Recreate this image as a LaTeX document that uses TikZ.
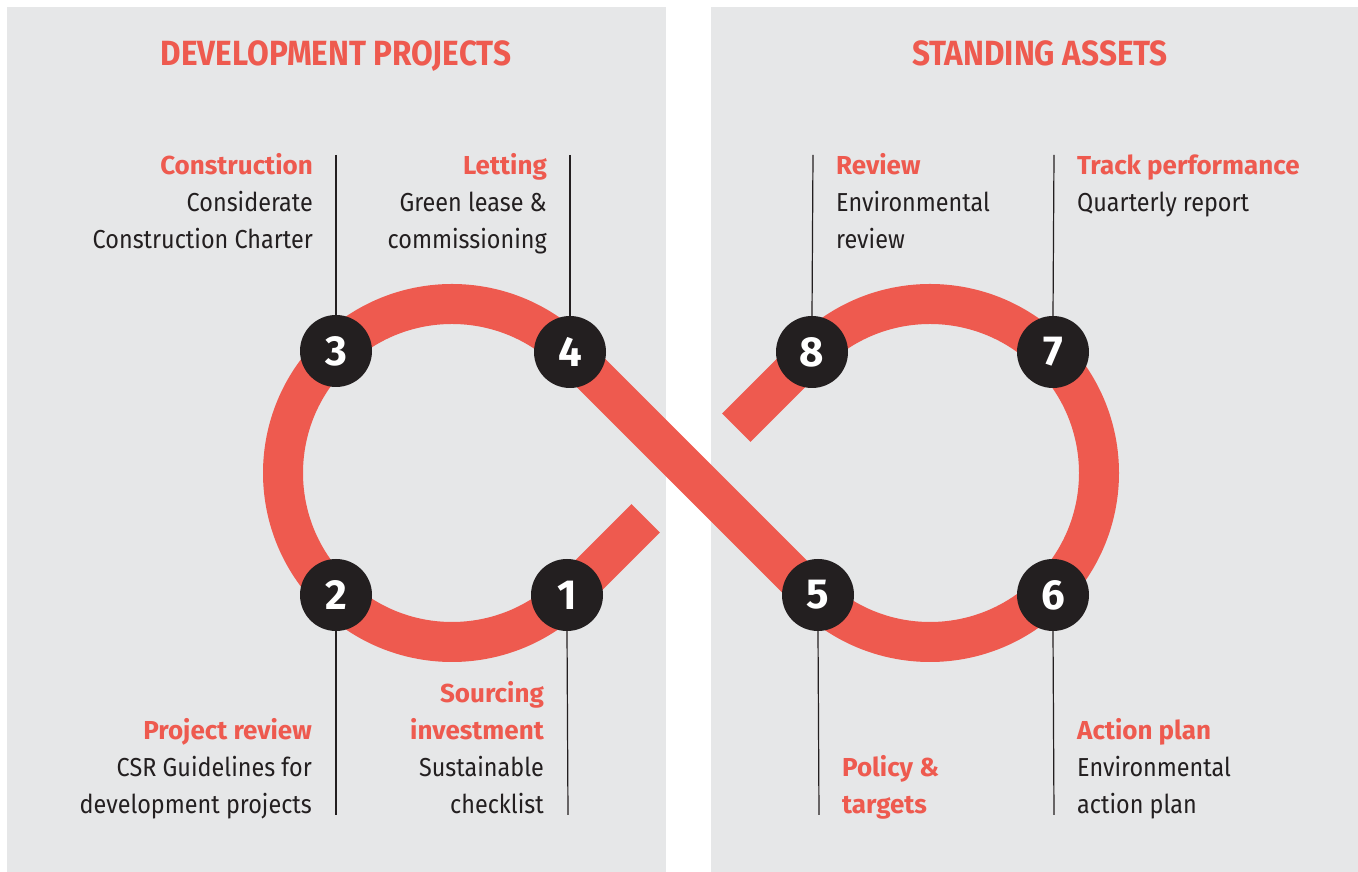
\documentclass[tikz,border=0pt]{standalone}
\usepackage{fontspec}
\setmainfont{Fira Sans}[FakeStretch=0.9]
\newfontfamily\headfont{Fira Sans}[FakeStretch=0.9]
\newfontfamily\lblfont{Fira Sans}
\usetikzlibrary{positioning}
\definecolor{accent}{HTML}{EE5A4F}
\definecolor{panelgray}{HTML}{E6E7E8}
\definecolor{ink}{HTML}{231F20}
\newcommand{\lbltxt}[1]{{\lblfont\bfseries\color{accent}#1}}
\begin{document}
\begin{tikzpicture}[x=1pt, y=1pt,
        panel/.style={fill=panelgray, draw=none},
        ribbon/.style={draw=accent, line width=40pt, line cap=butt, line join=round},
        leader/.style={draw=ink, line width=1.2pt},
        badge/.style={circle, fill=ink, text=white, minimum size=72pt, inner sep=0pt, font=\lblfont\fontsize{42}{42}\selectfont\bfseries},
        head/.style={anchor=base, text=accent, font=\headfont\fontsize{35}{35}\selectfont\bfseries},
        txtl/.style={anchor=base east, align=right, inner sep=0pt, text=ink, font=\fontsize{26}{37.3}\selectfont},
        txtr/.style={anchor=base west, align=left, inner sep=0pt, text=ink, font=\fontsize{26}{37.3}\selectfont}
    ]
    \useasboundingbox (0,0) rectangle (1358,872);
    \fill[panel] (7,0) rectangle (666,865);
    \fill[panel] (711,0) rectangle (1358,865);
    \node[head] (devhead) at (336,806) {DEVELOPMENT PROJECTS};
    \node[head] (standhead) at (1040,806) {STANDING ASSETS};
    \draw[ribbon] (645.7,353.7) -- (571.5,279.5) arc[start angle=-45, end angle=-315, radius=169]
        -- (810.5,279.5) arc[start angle=225, end angle=495, radius=169] -- (736.3,444.3);
    \node[txtl] (t3) at (313,623) {\lbltxt{Construction}\\Considerate\\Construction Charter};
    \node[txtl] (t4) at (547,623) {\lbltxt{Letting}\\Green lease \&\\commissioning};
    \node[txtr] (t8) at (836,623) {\lbltxt{Review}\\Environmental\\review};
    \node[txtr] (t7) at (1077,660) {\lbltxt{Track performance}\\Quarterly report};
    \node[txtl] (t2) at (312,58) {\lbltxt{Project review}\\CSR Guidelines for\\development projects};
    \node[txtl] (t1) at (544,58) {\lbltxt{Sourcing}\\\lbltxt{investment}\\Sustainable\\checklist};
    \node[txtr] (t5) at (842,58) {\lbltxt{Policy \&}\\\lbltxt{targets}};
    \node[txtr] (t6) at (1077,58) {\lbltxt{Action plan}\\Environmental\\action plan};
    \coordinate (l3) at (336,717);
    \coordinate (l4) at (570,717);
    \coordinate (l8) at (813,717);
    \coordinate (l7) at (1054,717);
    \coordinate (l2) at (336,57);
    \coordinate (l1) at (568,57);
    \coordinate (l5) at (819,57);
    \coordinate (l6) at (1054,57);
    \node[badge] (b3) at (336,521) {3};
    \node[badge] (b4) at (570,520) {4};
    \node[badge] (b2) at (336,277) {2};
    \node[badge] (b1) at (567,277) {1};
    \node[badge] (b8) at (812,520) {8};
    \node[badge] (b7) at (1053,520) {7};
    \node[badge] (b5) at (818,277) {5};
    \node[badge] (b6) at (1053,277) {6};
    \draw[leader] (l3) -- (b3.north);
    \draw[leader] (l4) -- (b4.north);
    \draw[leader] (l8) -- (b8.north);
    \draw[leader] (l7) -- (b7.north);
    \draw[leader] (l2) -- (b2.south);
    \draw[leader] (l1) -- (b1.south);
    \draw[leader] (l5) -- (b5.south);
    \draw[leader] (l6) -- (b6.south);
\end{tikzpicture}
\end{document}
